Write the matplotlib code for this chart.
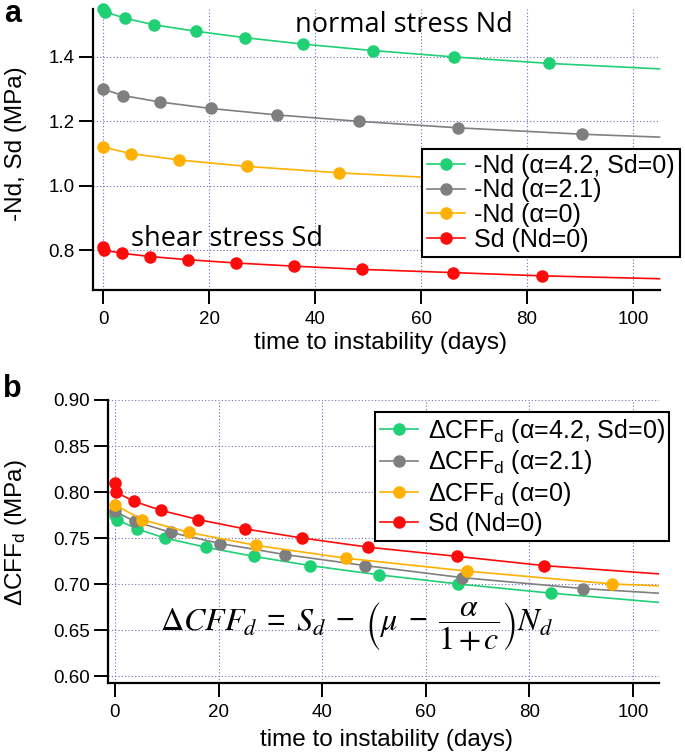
import matplotlib
matplotlib.use("Agg")
import matplotlib.pyplot as plt

plt.rcParams['font.family'] = ['Liberation Sans', 'DejaVu Sans']
plt.rcParams['mathtext.default'] = 'regular'

# ---------------- data ----------------
# panel a : -Nd and Sd versus time to instability (days)
t_green = [0, 0.4, 4.2, 9.6, 17.5, 26.8, 37.7, 50.9, 66.3, 84.2]
nd_green = [1.55, 1.54, 1.52, 1.50, 1.48, 1.46, 1.44, 1.42, 1.40, 1.38]
t_gray = [0, 3.8, 10.8, 20.3, 32.8, 48.3, 66.9, 90.4]
nd_gray = [1.30, 1.28, 1.26, 1.24, 1.22, 1.20, 1.18, 1.16]
t_yellow = [0, 5.2, 14.3, 27.2, 44.6, 68.0, 96.0]
nd_yellow = [1.12, 1.10, 1.08, 1.06, 1.04, 1.02, 1.00]
t_red = [0, 0.1, 3.6, 8.9, 16.1, 25.0, 36.1, 48.9, 66.1, 82.8]
sd_red = [0.81, 0.80, 0.79, 0.78, 0.77, 0.76, 0.75, 0.74, 0.73, 0.72]

# curve values at the right end of the time axis
t_end = 105
end_a = {'green': 1.363, 'gray': 1.151, 'yellow': 0.995, 'red': 0.711}

# panel b : delta CFF_d
cff_green = [0.775, 0.770, 0.760, 0.750, 0.740, 0.730, 0.720, 0.710, 0.700, 0.690]
cff_gray = [0.779, 0.768, 0.756, 0.744, 0.732, 0.720, 0.707, 0.695]
cff_yellow = [0.786, 0.770, 0.756, 0.742, 0.728, 0.714, 0.700]
cff_red = sd_red
end_b = {'green': 0.680, 'gray': 0.690, 'yellow': 0.698, 'red': 0.711}

labels_a = ['-Nd (α=4.2, Sd=0)', '-Nd (α=2.1)', '-Nd (α=0)', 'Sd (Nd=0)']
labels_b = [r'ΔCFF$_\mathregular{d}$ (α=4.2, Sd=0)', r'ΔCFF$_\mathregular{d}$ (α=2.1)',
            r'ΔCFF$_\mathregular{d}$ (α=0)', 'Sd (Nd=0)']
xticks = [0, 20, 40, 60, 80, 100]
yticks_a = [0.8, 1.0, 1.2, 1.4]
yticks_b = [0.60, 0.65, 0.70, 0.75, 0.80, 0.85, 0.90]

colors = {'green': '#1FD074', 'gray': '#7F7F7F', 'yellow': '#FFB000', 'red': '#FF0A0A'}
grid_color = '#6C6CB8'

W, H = 685, 754
fig = plt.figure(figsize=(W / 100, H / 100), dpi=100)


def rect(l, t, r, b):
    return [l / W, 1 - b / H, (r - l) / W, (b - t) / H]


def style(ax, yticks, fmt):
    for s in ['top', 'right']:
        ax.spines[s].set_visible(False)
    for s in ['left', 'bottom']:
        ax.spines[s].set_linewidth(1.6)
    ax.set_xticks(xticks)
    ax.set_yticks(yticks)
    ax.set_yticklabels([fmt % v for v in yticks])
    ax.tick_params(direction='out', length=10, width=1.4, labelsize=13.5, pad=3)
    ax.tick_params(axis='x', pad=5)
    ax.grid(True, color=grid_color, linestyle=(0, (1, 2)), linewidth=0.8)
    ax.set_axisbelow(True)


def series(ax, t, v, vend, color, label):
    xs = list(t) + [t_end]
    ys = list(v) + [vend]
    ax.plot(xs, ys, color=color, lw=1.2, marker='o', ms=8, mec=color, mfc=color,
            markevery=list(range(len(t))), label=label)


def legend(ax, x, y, spacing):
    leg = ax.legend(loc='upper left', bbox_to_anchor=(x / W, 1 - y / H),
                    bbox_transform=fig.transFigure, fontsize=18, frameon=True,
                    fancybox=False, framealpha=1, edgecolor='black',
                    handlelength=1.5, handletextpad=0.4, labelspacing=spacing,
                    borderpad=0.2, borderaxespad=0)
    leg.get_frame().set_linewidth(1.5)
    leg.set_zorder(10)
    return leg


# ---------------- panel a ----------------
ax_a = fig.add_axes(rect(93, 8.7, 660, 290))
ax_a.set_xlim(-1.9, 105.1)
ax_a.set_ylim(0.676, 1.55)
style(ax_a, yticks_a, '%.1f')
series(ax_a, t_green, nd_green, end_a['green'], colors['green'], labels_a[0])
series(ax_a, t_gray, nd_gray, end_a['gray'], colors['gray'], labels_a[1])
series(ax_a, t_yellow, nd_yellow, end_a['yellow'], colors['yellow'], labels_a[2])
series(ax_a, t_red, sd_red, end_a['red'], colors['red'], labels_a[3])
for ln in ax_a.lines:
    ln.set_clip_on(False)

ax_a.text(56.8, 1.499, 'normal stress Nd', family='Open Sans', fontsize=19.5,
          ha='center', va='center')
ax_a.text(23.3, 0.836, 'shear stress Sd', family='Open Sans', fontsize=19.5,
          ha='center', va='center')

legend(ax_a, 422, 149, 0.02)

# ---------------- panel b ----------------
ax_b = fig.add_axes(rect(108, 400, 659, 683))
ax_b.set_xlim(-1.35, 105)
ax_b.set_ylim(0.5924, 0.90)
style(ax_b, yticks_b, '%.2f')
series(ax_b, t_green, cff_green, end_b['green'], colors['green'], labels_b[0])
series(ax_b, t_gray, cff_gray, end_b['gray'], colors['gray'], labels_b[1])
series(ax_b, t_yellow, cff_yellow, end_b['yellow'], colors['yellow'], labels_b[2])
series(ax_b, t_red, cff_red, end_b['red'], colors['red'], labels_b[3])

eq = (r'$\mathrm{\Delta}\mathit{CFF}_\mathit{d}\;=\;\mathit{S}_\mathit{d}\;-\;'
      r'\left(\mathit{\mu}\;-\;\dfrac{\mathit{\alpha}}{\mathrm{1}\,\mathrm{+}\,\mathit{c}}\right)'
      r'\mathit{N}_\mathit{d}$')
ax_b.text(46.7, 0.654, eq, math_fontfamily='stix', fontsize=23, ha='center', va='center')

legend(ax_b, 375, 412, 0.14)

# axis titles and panel letters
fig.text(381 / W, 1 - 343 / H, 'time to instability (days)', fontsize=17.5,
         ha='center', va='center')
fig.text(387 / W, 1 - 740 / H, 'time to instability (days)', fontsize=17.5,
         ha='center', va='center')
fig.text(16 / W, 1 - 144 / H, '-Nd, Sd (MPa)', fontsize=17.5, rotation=90,
         ha='center', va='center')
fig.text(16 / W, 1 - 533 / H, r'ΔCFF$_\mathregular{d}$ (MPa)', fontsize=17.5, rotation=90,
         ha='center', va='center')
fig.text(4 / W, 1 - 22 / H, 'a', fontsize=22, fontweight='bold', ha='left', va='baseline')
fig.text(3 / W, 1 - 397 / H, 'b', fontsize=22, fontweight='bold', ha='left', va='baseline')

fig.savefig('out.png', dpi=100)
